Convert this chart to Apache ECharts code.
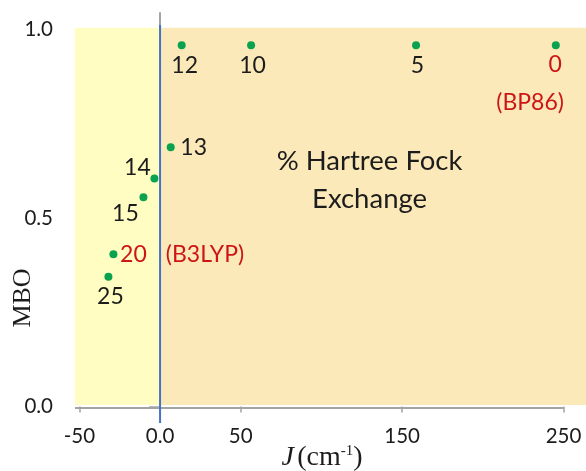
<!DOCTYPE html>
<html><head><meta charset="utf-8">
<script src="https://cdn.jsdelivr.net/npm/echarts@6/dist/echarts.min.js"></script>
<style>html,body{margin:0;padding:0;background:#fff}#c{width:586px;height:471px}</style>
</head><body><div id="c"></div>
<script>
// ---- data ----
const hfLabels  = ['12', '10', '5', '0', '13', '14', '15', '20', '25'];
const jValues   = [13.4, 56.4, 158.6, 245.2, 6.6, -3.5, -10.3, -28.9, -32.0];
const mboValues = [0.958, 0.958, 0.958, 0.958, 0.688, 0.605, 0.555, 0.404, 0.344];
const xTickValues = [-50, 0, 50, 150, 250];
const yTickValues = [0, 0.1, 0.2, 0.3, 0.4, 0.5, 0.6, 0.7, 0.8, 0.9, 1.0];
const yLabelValues = [0, 0.5, 1.0];
const functionalNotes = { '0': '(BP86)', '20': '(B3LYP)' };
const annotationText = ['% Hartree Fock', 'Exchange'];
const xAxisTitle = ['J', '(cm', '-1', ')'];
const yAxisTitle = 'MBO';

// ---- layout / styles ----
const xRange = [-52.7, 263.9];
const yRange = [-0.004, 1.0438];
const bgY = [0.004, 1.005];
const GREEN = '#0aa24f', RED = '#cc1616', BLUE = '#4472C4', GREY = '#a3a3a3', INK = '#1c1c1c';
const SANS = 'Lato';
const SERIF = '"Liberation Serif", "Times New Roman", serif';
const PT_FS = 23;
const labelLayout = {
  '12': { offset: [3, 20] },
  '10': { offset: [1.5, 20] },
  '5':  { offset: [1.5, 20] },
  '0':  { offset: [-25.7, 38] },
  '13': { offset: [23, 0.7] },
  '14': { offset: [-17, -11] },
  '15': { offset: [-18, 16] },
  '20': { offset: [6.7, 0.5], align: 'left' },
  '25': { offset: [2, 19.5] }
};

function labelFor(name) {
  const lay = labelLayout[name];
  const base = {
    show: true, position: 'inside', offset: lay.offset,
    fontFamily: SANS, fontSize: PT_FS, color: INK
  };
  if (name === '0') {
    return Object.assign(base, {
      formatter: '{p|' + name + '}\n{q|' + functionalNotes[name] + '}',
      align: 'center',
      rich: {
        p: { fontFamily: SANS, fontSize: PT_FS, color: RED, lineHeight: 38, padding: [0, 0, 0, 50] },
        q: { fontFamily: SANS, fontSize: PT_FS, color: RED, lineHeight: 38 }
      }
    });
  }
  if (name === '20') {
    return Object.assign(base, {
      formatter: '{r|' + name + '}{s|' + functionalNotes[name] + '}',
      align: 'left',
      rich: {
        r: { fontFamily: SANS, fontSize: PT_FS, color: RED },
        s: { fontFamily: SANS, fontSize: PT_FS, color: RED, padding: [0, 0, 0, 19] }
      }
    });
  }
  base.formatter = name;
  return base;
}

const chart = echarts.init(document.getElementById('c'), null, { renderer: 'canvas' });
chart.setOption({
  animation: false,
  backgroundColor: '#ffffff',
  grid: { left: 75, right: 0, top: 13, bottom: 63, outerBoundsMode: 'none', containLabel: false },
  xAxis: {
    type: 'value', min: xRange[0], max: xRange[1],
    axisLine: { show: false },
    splitLine: { show: false },
    axisTick: { show: true, customValues: xTickValues, length: 6, lineStyle: { color: GREY, width: 1.5 } },
    axisLabel: {
      customValues: xTickValues, margin: 18,
      formatter: v => (v === 0 ? '0.0' : String(v)),
      fontFamily: SANS, fontSize: 20.5, color: INK
    }
  },
  yAxis: {
    type: 'value', min: yRange[0], max: yRange[1],
    axisLine: { show: true, lineStyle: { color: GREY, width: 2 } },
    splitLine: { show: false },
    axisTick: { show: true, customValues: yTickValues, length: 11, lineStyle: { color: GREY, width: 1.5 } },
    axisLabel: {
      customValues: yLabelValues, margin: 22,
      formatter: v => v.toFixed(1),
      fontFamily: SANS, fontSize: 20.5, color: INK
    }
  },
  series: [
    {
      name: 'bg', type: 'scatter', data: [], z: 1, silent: true,
      markArea: {
        silent: true,
        label: { show: false },
        data: [
          [{ xAxis: xRange[0], yAxis: bgY[0], itemStyle: { color: '#FFFDC2' } }, { xAxis: 0, yAxis: bgY[1] }],
          [{ xAxis: 0, yAxis: bgY[0], itemStyle: { color: '#FCE9B9' } }, { xAxis: xRange[1], yAxis: bgY[1] }]
        ]
      }
    },
    {
      name: 'xAxisLine', type: 'line', z: 2, silent: true, clip: false, symbol: 'none',
      data: [[xRange[0], yRange[0]], [xTickValues[xTickValues.length - 1], yRange[0]]],
      lineStyle: { color: GREY, width: 2 }
    },
    {
      name: 'B3LYP boundary', type: 'line', z: 3, silent: true, clip: false, symbol: 'none',
      data: [[0, -0.044], [0, 1.012]],
      lineStyle: { color: BLUE, width: 2 }
    },
    {
      name: 'MBO', type: 'scatter', z: 5, symbolSize: 8,
      itemStyle: { color: GREEN, opacity: 1 },
      data: jValues.map((x, i) => ({ value: [x, mboValues[i]], label: labelFor(hfLabels[i]) }))
    }
  ]
});

const annPt = chart.convertToPixel({ xAxisIndex: 0, yAxisIndex: 0 }, [129.8, 0.601]);
chart.setOption({
  graphic: [
    {
      type: 'text', x: annPt[0], y: annPt[1], z: 10,
      style: {
        text: annotationText.join('\n'), fontFamily: SANS, fontSize: 27.5, lineHeight: 37.5,
        align: 'center', verticalAlign: 'middle', fill: INK
      }
    },
    {
      type: 'text', x: 23.5, y: 298, rotation: Math.PI / 2, z: 10,
      style: {
        text: yAxisTitle, font: '26px ' + SERIF,
        align: 'center', verticalAlign: 'middle', fill: INK
      }
    },
    {
      type: 'text', x: 322, y: 458, z: 10,
      style: {
        text: '{i|' + xAxisTitle[0] + '} {n|' + xAxisTitle[1] + '}{s|' + xAxisTitle[2] + '}{n|' + xAxisTitle[3] + '}',
        align: 'center', verticalAlign: 'middle', fill: INK,
        rich: {
          i: { fontFamily: SERIF, fontStyle: 'italic', fontSize: 28, lineHeight: 28, fill: INK },
          n: { fontFamily: SERIF, fontSize: 28, lineHeight: 28, fill: INK },
          s: { fontFamily: SERIF, fontSize: 15, lineHeight: 15, verticalAlign: 'top', fill: INK }
        }
      }
    }
  ]
});
</script>
</body></html>
